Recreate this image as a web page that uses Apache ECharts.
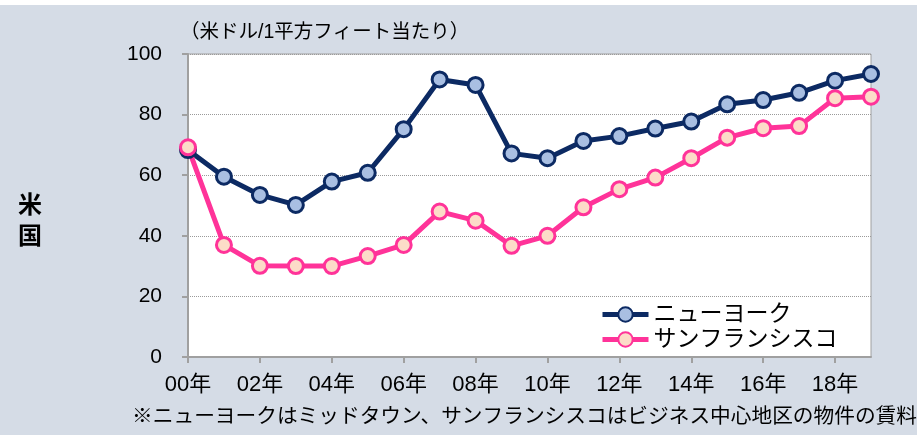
<!DOCTYPE html>
<html lang="ja">
<head>
    <meta charset="UTF-8">
    <title>米国 オフィス賃料</title>
    <style>
        html, body {
            margin: 0;
            padding: 0;
            background: #d5dce6;
        }
        #main {
            width: 917px;
            height: 435px;
        }
    </style>
    <script type="text/javascript" src="https://cdn.jsdelivr.net/npm/echarts@6/dist/echarts.min.js"></script>
</head>
<body>
<div id="main"></div>
<script type="text/javascript">
    // years 2000-2019
    var years = ['00年','01年','02年','03年','04年','05年','06年','07年','08年','09年',
        '10年','11年','12年','13年','14年','15年','16年','17年','18年','19年'];
    var newYork = [68.3,59.5,53.5,50.2,57.9,60.8,75.2,91.6,89.8,67.2,
        65.6,71.3,72.9,75.4,77.7,83.4,84.8,87.2,91.2,93.4];
    var sanFrancisco = [69.2,37.0,30.1,30.0,30.0,33.3,37.0,48.0,45.0,36.7,
        40.0,49.4,55.4,59.2,65.6,72.4,75.5,76.2,85.4,85.9];
    var seriesNames = ['ニューヨーク','サンフランシスコ'];

    var font = '"Liberation Sans", "Noto Sans CJK JP", sans-serif';
    var chart = echarts.init(document.getElementById('main'));

    var option = {
        backgroundColor: '#d5dce6',
        animation: false,
        grid: {
            left: 188,
            right: 46,
            top: 54,
            bottom: 78,
            show: true,
            backgroundColor: '#ffffff',
            borderColor: '#a0a0a0',
            borderWidth: 1
        },
        legend: {
            orient: 'vertical',
            left: 595,
            top: 298,
            itemWidth: 46,
            itemHeight: 18,
            itemGap: 2,
            data: seriesNames,
            lineStyle: {width: 5},
            textStyle: {fontFamily: font, fontSize: 23, color: '#000'}
        },
        xAxis: {
            type: 'category',
            data: years,
            boundaryGap: false,
            axisLine: {lineStyle: {color: '#a0a0a0', width: 2}},
            axisTick: {interval: 1, length: 6, lineStyle: {color: '#a0a0a0', width: 2}},
            axisLabel: {interval: 1, margin: 17, fontFamily: font, fontSize: 22, color: '#000'}
        },
        yAxis: {
            type: 'value',
            min: 0,
            max: 100,
            interval: 20,
            axisLine: {show: true, lineStyle: {color: '#a0a0a0', width: 2}},
            axisTick: {show: true, length: 6, lineStyle: {color: '#a0a0a0', width: 2}},
            axisLabel: {margin: 26, fontFamily: font, fontSize: 21, color: '#000'},
            splitLine: {lineStyle: {color: '#9a9a9a', type: 'dotted', width: 1}}
        },
        series: [
            {
                name: seriesNames[0],
                type: 'line',
                data: newYork,
                symbol: 'circle',
                symbolSize: 15,
                lineStyle: {color: '#0c2a63', width: 5},
                itemStyle: {color: '#a9bfe2', borderColor: '#0c2a63', borderWidth: 3}
            },
            {
                name: seriesNames[1],
                type: 'line',
                data: sanFrancisco,
                symbol: 'circle',
                symbolSize: 15,
                lineStyle: {color: '#ff3399', width: 5},
                itemStyle: {color: '#fcdcc8', borderColor: '#ff3399', borderWidth: 3}
            }
        ],
        graphic: [
            {type: 'rect', left: 0, top: 0, shape: {width: 917, height: 5}, style: {fill: '#ffffff'}},
            {type: 'text', left: 180, top: 23, style: {text: '（米ドル/1平方フィート当たり）', font: '19.5px ' + font, fill: '#000'}},
            {type: 'text', left: 18, top: 191, style: {text: '米\n国', font: 'bold 24px ' + font, fill: '#000', lineHeight: 31}},
            {type: 'text', right: 0, top: 407, style: {text: '※ニューヨークはミッドタウン、サンフランシスコはビジネス中心地区の物件の賃料', font: '20.7px ' + font, fill: '#000'}}
        ]
    };
    chart.setOption(option);
</script>
</body>
</html>
